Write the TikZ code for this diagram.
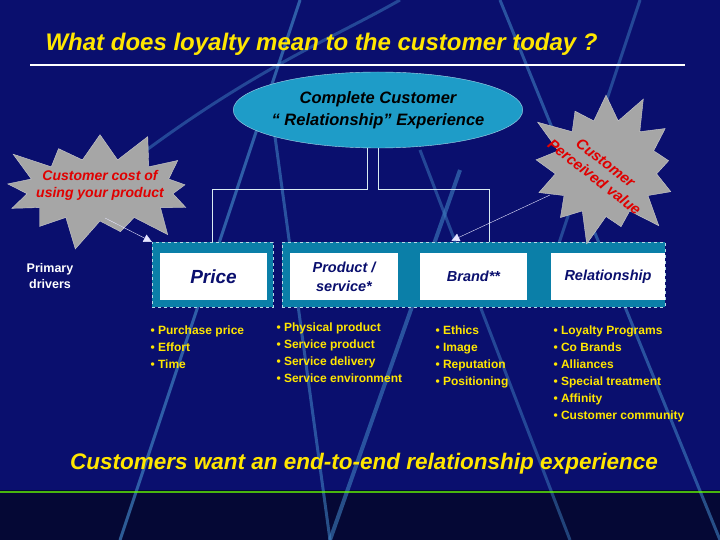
\documentclass[tikz,border=0pt]{standalone}
\usepackage{fontspec}
\setmainfont{Liberation Sans}
\usetikzlibrary{arrows.meta,shapes.geometric,shapes.symbols,positioning,calc}
\definecolor{navy}{HTML}{0A0F6E}
\definecolor{deepnavy}{HTML}{050835}
\definecolor{streak}{HTML}{3E7FC0}
\definecolor{frameblue}{HTML}{0B7FA8}
\definecolor{ellfill}{HTML}{1E9CC8}
\definecolor{titleyellow}{HTML}{FFE600}
\definecolor{burstred}{HTML}{E00000}
\begin{document}
\begin{tikzpicture}[
  x=1pt, y=-1pt,
  font=\bfseries,
  % Node Styles
  frame/.style={draw=white!70!frameblue, dashed, fill=frameblue, inner sep=0pt},
  driver/.style={fill=white, inner sep=0pt, align=center, font=\bfseries\itshape, text=navy},
  burst/.style={starburst, starburst points=13, starburst point height=34pt, fill=gray!70, draw=gray!40, inner sep=0pt},
  bullets/.style={anchor=north west, align=left, text=titleyellow, font=\bfseries\fontsize{12}{17}\selectfont},
  % Line Styles
  link/.style={draw=white!85!frameblue, thin},
  pointer/.style={-{Triangle[width=8pt,length=8pt]}, white!90!blue, thin}
]
\useasboundingbox (0,0) rectangle (720,540);

% ================= BACKGROUND =================
\fill[navy] (0,0) rectangle (720,540);
\fill[deepnavy] (0,490) rectangle (720,540);
\begin{scope}
\clip (0,0) rectangle (720,540);
\draw[streak, line width=3pt, opacity=0.7] (300,0) -- (120,540);
\draw[streak, line width=3pt, opacity=0.6] (500,0) -- (720,540);
\draw[streak, line width=3pt, opacity=0.6] (270,100) -- (330,540);
\draw[streak, line width=4pt, opacity=0.6] (460,170) -- (330,540);
\draw[streak, line width=3pt, opacity=0.5] (420,150) -- (570,540);
\draw[streak, line width=3pt, opacity=0.5] (640,0) -- (540,300);
\draw[streak, line width=3pt, opacity=0.5] (120,170) .. controls (250,70) and (330,40) .. (400,0);
\draw[green!60!yellow, line width=2pt, opacity=0.7] (0,492) -- (720,492);
\end{scope}

% ================= NODES =================

% --- Title ---
\node[anchor=west, text=titleyellow, font=\bfseries\itshape\fontsize{24}{28}\selectfont] (title) at (42,44) {What does loyalty mean to the customer today ?};
\coordinate (ruleL) at (30,65);
\coordinate (ruleR) at (685,65);

% --- Experience ellipse ---
\node[ellipse, draw=white!60!ellfill, fill=ellfill, minimum width=288pt, minimum height=76pt, align=center, inner sep=-4pt,
      font=\bfseries\itshape\fontsize{16.5}{22}\selectfont, text=black] (exp) at (378,110) {Complete Customer\\“ Relationship” Experience};

% --- Frames ---
\node[frame, minimum width=121pt, minimum height=65pt] (leftframe) at (212.5,274.5) {};
\node[frame, minimum width=383pt, minimum height=65pt] (rightframe) at (473.5,274.5) {};

% --- Drivers ---
\node[driver, minimum width=107pt, minimum height=47pt, font=\bfseries\itshape\fontsize{19}{21}\selectfont] (price) at (213.5,276.5) {Price};
\node[driver, minimum width=108pt, minimum height=47pt, font=\bfseries\itshape\fontsize{14.5}{19}\selectfont] (product) at (344,276.5) {Product /\\service*};
\node[driver, minimum width=107pt, minimum height=47pt, font=\bfseries\itshape\fontsize{14.5}{18}\selectfont] (brand) at (473.5,276.5) {Brand**};
\node[driver, minimum width=114pt, minimum height=47pt, font=\bfseries\itshape\fontsize{14.5}{18}\selectfont] (relation) at (608,276.5) {Relationship};

\node[text=white, align=center, font=\bfseries\fontsize{12.5}{16}\selectfont] (primary) at (50,276) {Primary\\drivers};

% --- Starbursts ---
\node[burst, minimum width=215pt, minimum height=130pt] (costburst) at (100,190) {};
\node[text=burstred, align=center, font=\bfseries\itshape\fontsize{14}{17}\selectfont] (costtext) at (100,185) {Customer cost of\\using your product};
\node[burst, minimum width=170pt, minimum height=165pt] (valueburst) at (606,168) {};
\node[text=burstred, align=center, rotate=-38, font=\bfseries\itshape\fontsize{15}{18}\selectfont] (valuetext) at (600,170) {Customer\\Perceived value};

% --- Bullet lists ---
\node[bullets] (pricelist) at (147,322) {• Purchase price\\• Effort\\• Time};
\node[bullets] (productlist) at (273,319) {• Physical product\\• Service product\\• Service delivery\\• Service environment};
\node[bullets] (brandlist) at (432,322) {• Ethics\\• Image\\• Reputation\\• Positioning};
\node[bullets] (relationlist) at (550,322) {• Loyalty Programs\\• Co Brands\\• Alliances\\• Special treatment\\• Affinity\\• Customer community};

% --- Closing line ---
\node[text=titleyellow, font=\bfseries\itshape\fontsize{22.5}{26}\selectfont] (closing) at (364,464) {Customers want an end-to-end relationship experience};

% ================= CONNECTIONS =================
\draw[white, line width=1.2pt] (ruleL) -- (ruleR);
\draw[link] (exp.south) ++(-11,0) -- ++(0,41) -| (leftframe.north);
\draw[link] (exp.south) -- ++(0,41) -| ($(rightframe.north)+(16,0)$);
\draw[pointer] (105,218) -- (leftframe.north west);
\draw[pointer] (550,195) -- ($(brand.north)+(-22,-12)$);

\end{tikzpicture}
\end{document}
